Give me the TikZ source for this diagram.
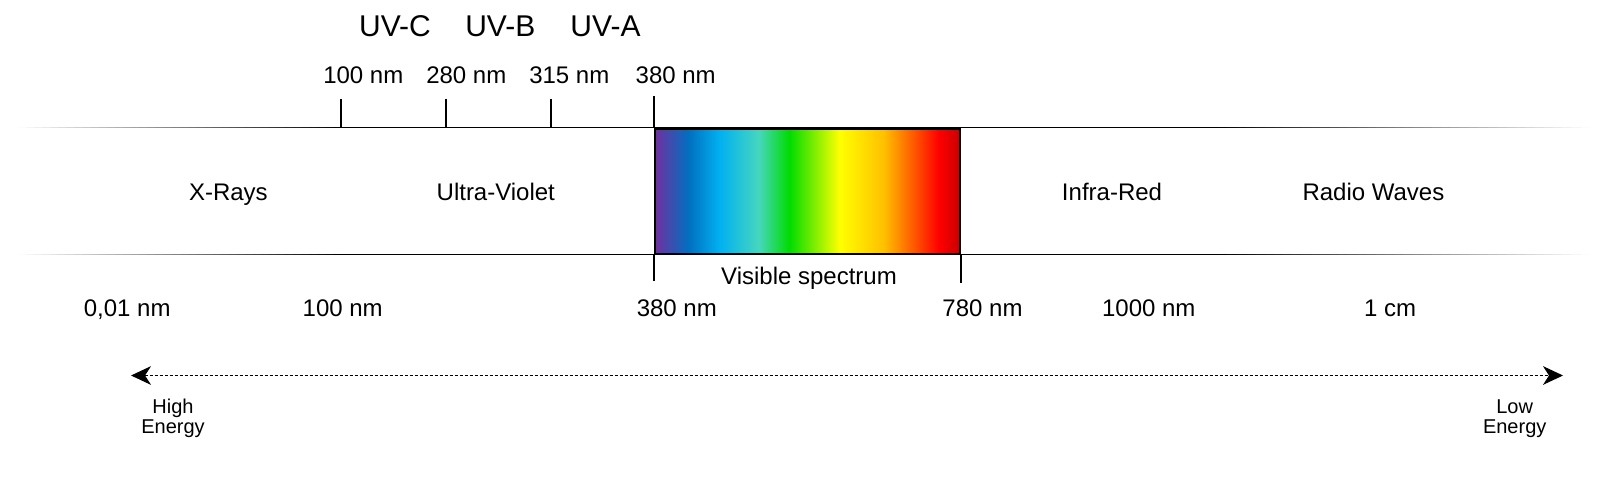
\documentclass[tikz,border=0pt]{standalone}
\usepackage{fontspec}
\setmainfont{Liberation Sans}
\usepackage{tikz}
\usetikzlibrary{positioning, arrows.meta, calc}
\definecolor{vpurple}{HTML}{7030A0}
\definecolor{vblue}{HTML}{0070C0}
\definecolor{vsky}{HTML}{00B0F0}
\definecolor{vturq}{HTML}{46D7BE}
\definecolor{vgreen}{HTML}{00DC00}
\definecolor{vyellow}{HTML}{FFFF00}
\definecolor{vgold}{HTML}{FFC000}
\definecolor{vred}{HTML}{FF0000}
\definecolor{vdarkred}{HTML}{C80000}
\pgfdeclarehorizontalshading{spectrum}{100bp}{color(0bp)=(vpurple); color(25bp)=(vpurple); color(30.5bp)=(vblue); color(35.5bp)=(vsky); color(42bp)=(vturq); color(47bp)=(vgreen); color(55.25bp)=(vyellow); color(62.5bp)=(vgold); color(71.5bp)=(vred); color(75bp)=(vdarkred); color(100bp)=(vdarkred)}
\tikzstyle{axisline} = [line width=1pt]
\tikzstyle{tick} = [line width=1.5pt]
\tikzstyle{band} = [font=\fontsize{18}{21}\selectfont, anchor=base, inner sep=0pt]
\tikzstyle{uvband} = [font=\fontsize{22.5}{26}\selectfont, anchor=base, inner sep=0pt]
\tikzstyle{energy} = [font=\fontsize{15}{15}\selectfont, align=center, inner sep=0pt]
\tikzstyle{visiblebox} = [rectangle, draw=black, line width=1.9pt, shading=spectrum, minimum width=228.75pt, minimum height=93.75pt, inner sep=0pt]
\tikzstyle{energyarrow} = [line width=0.75pt, dash pattern=on 2.25pt off 1.5pt, {Stealth[length=15pt, width=14pt, inset=4.5pt]}-{Stealth[length=15pt, width=14pt, inset=4.5pt]}]

\begin{document}
\begin{tikzpicture}[x=0.75pt, y=-0.75pt]
        \useasboundingbox (0,0) rectangle (1613,500);

        \foreach \y in {127.3,254.3} {
          \foreach \i in {0,...,39} {
            \pgfmathsetmacro{\p}{2.5*(\i+0.5)}
            \draw [axisline, color=black!\p] ({18+8.075*\i},\y) -- ({18.6+8.075*(\i+1)},\y);
            \draw [axisline, color=black!\p] ({1590-9.3*\i},\y) -- ({1589.4-9.3*(\i+1)},\y);
          }
          \draw [axisline] (341,\y) -- (1218,\y);
        }

        \node (visible) [visiblebox] at (807.5,191.5) {};

        \coordinate (t100) at (341,127.3);
        \coordinate (t280) at (446,127.3);
        \coordinate (t315) at (550.7,127.3);
        \draw [tick] (t100) -- ++(0,-28.3);
        \draw [tick] (t280) -- ++(0,-28.3);
        \draw [tick] (t315) -- ++(0,-28.3);
        \draw [tick] (visible.north west) -- ++(0,-32);
        \draw [tick] (visible.south west) -- ++(0,26);
        \draw [tick] (visible.south east) -- ++(0,27.5);

        \node (uvc) [uvband] at (395,36.7) {UV-C};
        \node (uvb) [uvband] at (500.3,36.7) {UV-B};
        \node (uva) [uvband] at (605.5,36.7) {UV-A};

        \node (top100) [band] at (363.3,83.3) {100 nm};
        \node (top280) [band] at (466.3,83.3) {280 nm};
        \node (top315) [band] at (569.3,83.3) {315 nm};
        \node (top380) [band] at (675.7,83.3) {380 nm};

        \node (xrays) [band] at (228.4,200.7) {X-Rays};
        \node (uv) [band] at (495.8,200.7) {Ultra-Violet};
        \node (ir) [band] at (1112,200.7) {Infra-Red};
        \node (radio) [band] at (1373.4,200.7) {Radio Waves};

        \node (vislabel) [band] at (809,284.3) {Visible spectrum};

        \node (bot001) [band] at (127.2,316) {0,01 nm};
        \node (bot100) [band] at (342.7,316) {100 nm};
        \node (bot380) [band] at (676.8,316) {380 nm};
        \node (bot780) [band] at (982.5,316) {780 nm};
        \node (bot1000) [band] at (1148.8,316) {1000 nm};
        \node (bot1cm) [band] at (1390,316) {1 cm};

        \coordinate (high) at (131,375.5);
        \coordinate (low) at (1563,375.5);
        \draw [energyarrow] (high) -- (low);

        \node (highlabel) [energy] at (173,418.8) {High\\Energy};
        \node (lowlabel) [energy] at (1514.7,418.8) {Low\\Energy};

        \end{tikzpicture}
\end{document}
